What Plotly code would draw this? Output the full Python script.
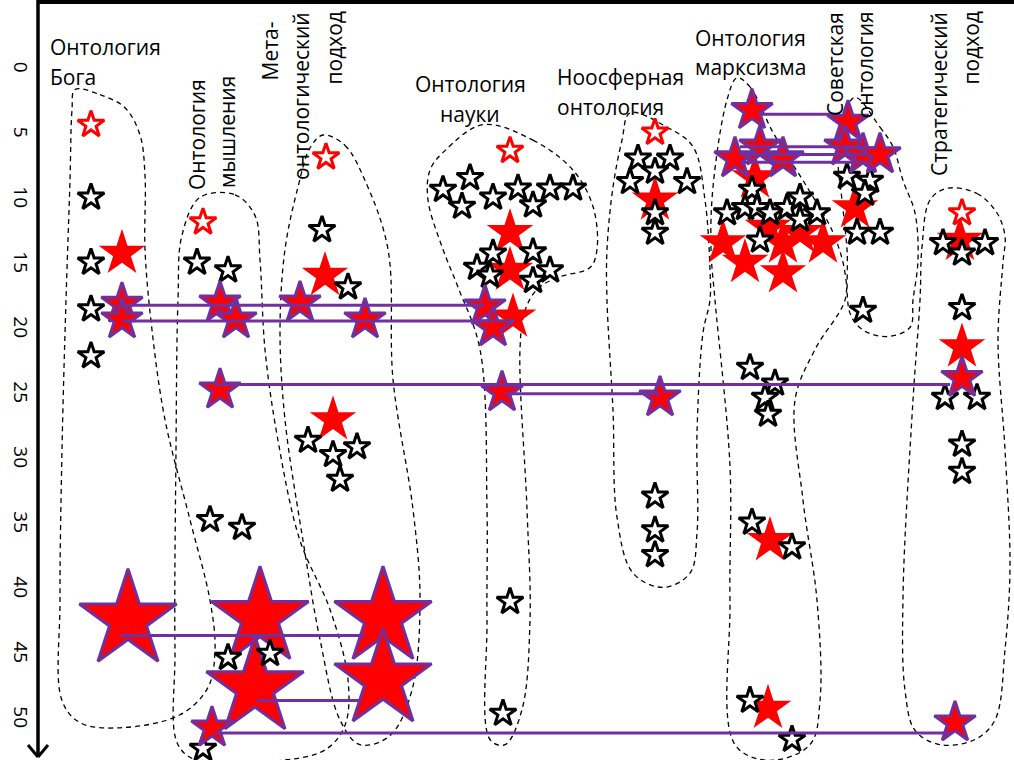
import plotly.graph_objects as go

# ---------------- data ----------------
tick_vals = [0, 5, 10, 15, 20, 25, 30, 35, 40, 45, 50]
tick_text = [str(v) for v in tick_vals]

# black-outlined (white) stars
open_x = [91, 91, 91, 91,
          197, 228, 210, 242, 228, 270, 203,
          322, 348, 308, 333, 357, 340,
          443, 470, 462, 493, 518, 533, 550, 573, 493, 533, 477, 490, 550, 533, 510, 503,
          638, 670, 655, 630, 687, 655, 655, 655, 655, 655,
          752, 727, 745, 757, 770, 787, 800, 817, 800, 760, 750, 775, 765, 768, 752, 792, 750, 792,
          847, 870, 865, 857, 880, 863,
          943, 962, 985, 962, 945, 977, 962, 962]
open_y = [9.8, 14.8, 18.4, 22.0,
          14.8, 15.4, 34.6, 35.2, 45.2, 44.9, 52.2,
          12.3, 16.7, 28.5, 29.6, 29.0, 31.5,
          9.2, 8.3, 10.5, 9.8, 9.1, 10.4, 9.1, 9.1, 14.1, 14.0, 15.2, 15.8, 15.4, 16.2, 40.9, 49.5,
          6.8, 6.8, 7.8, 8.6, 8.6, 11.0, 12.5, 32.8, 35.4, 37.3,
          9.2, 11.0, 10.6, 10.6, 11.0, 10.6, 9.8, 11.0, 11.5, 13.1, 22.9, 24.1, 25.2, 26.5, 34.8, 36.7, 48.5, 51.5,
          8.2, 8.5, 9.5, 12.5, 12.5, 18.5,
          13.3, 14.1, 13.3, 18.3, 25.2, 25.2, 28.8, 30.9]

# red-outlined (white) stars
open_red_x = [91, 203, 326, 510, 655, 962]
open_red_y = [4.2, 11.7, 6.7, 6.2, 4.8, 11.0]

# filled red stars
red_x = [122, 325, 333, 510, 510, 513, 655,
         755, 723, 745, 768, 783, 783, 823, 800, 770, 768,
         855, 960, 962]
red_y = [14.1, 15.8, 26.9, 12.5, 15.4, 19.0, 10.0,
         8.3, 13.3, 14.8, 12.1, 15.6, 13.3, 13.3, 12.5, 36.2, 49.1,
         10.6, 13.1, 21.3]

# red stars with purple outline
purple_x = [122, 122, 220, 236, 220, 212, 300, 365, 485, 493, 502, 660,
            752, 760, 735, 783, 848, 845, 863, 880, 962, 955]
purple_y = [18.0, 19.2, 17.9, 19.2, 24.6, 50.6, 17.9, 19.2, 18.2, 19.8, 24.8, 25.2,
            3.1, 5.9, 6.8, 6.8, 4.0, 5.9, 6.5, 6.5, 23.7, 50.2]

# large red stars with purple outline
big_x = [128, 260, 255, 383, 383]
big_y = [42.3, 42.1, 47.5, 42.1, 46.9]

# connecting links
link_x0 = [120, 122, 215, 505, 120, 257, 215, 760, 740, 740, 740]
link_x1 = [484, 495, 950, 660, 365, 360, 950, 840, 867, 867, 867]
link_y = [18.1, 19.3, 24.2, 24.9, 43.5, 48.5, 51.0, 3.4, 5.9, 6.5, 7.1]

# dashed group outlines (x, y)
outlines = {
    "Бога": [(75, 1.5), (100, 1.9), (125, 2.9), (140, 5.0), (145, 8.1), (145, 13.8), (152, 20.0),
             (165, 26.9), (190, 34.6), (210, 40.8), (215, 44.6), (208, 47.5), (180, 49.6),
             (120, 50.6), (80, 50.2), (62, 48.5), (60, 40.8), (62, 29.2), (66, 17.7), (70, 8.5), (72, 3.1)],
    "мышления": [(200, 9.8), (235, 9.6), (255, 11.2), (260, 14.6), (265, 21.5), (278, 28.5), (300, 36.2),
                 (330, 41.5), (348, 46.9), (345, 50.4), (325, 52.3), (270, 53.2), (200, 53.2),
                 (178, 51.9), (175, 44.6), (176, 29.2), (178, 17.7), (182, 12.7)],
    "мета": [(323, 5.0), (345, 5.8), (365, 8.5), (388, 13.8), (393, 23.8), (413, 33.8), (420, 40.8),
             (412, 47.7), (390, 51.2), (360, 51.9), (340, 50.0), (320, 43.8), (303, 36.2), (285, 26.9),
             (280, 20.0), (285, 13.8), (298, 9.0), (310, 6.0)],
    "науки": [(483, 4.2), (533, 5.4), (573, 7.7), (593, 10.5), (597, 13.8), (590, 15.2), (560, 15.9),
              (538, 16.8), (525, 18.5), (520, 21.5), (527, 33.8), (530, 42.3), (522, 49.2), (505, 51.9),
              (490, 51.5), (487, 42.3), (487, 33.8), (480, 21.5), (458, 16.7), (443, 13.8), (428, 10.0),
              (430, 7.7), (445, 6.2)],
    "ноосфера": [(630, 3.3), (667, 4.4), (693, 5.9), (705, 10.0), (710, 15.4), (710, 17.7), (703, 20.2),
                 (697, 27.9), (697, 35.6), (690, 38.7), (663, 39.8), (633, 38.7), (617, 34.4), (613, 26.2),
                 (607, 17.7), (607, 13.8), (613, 9.0), (622, 5.4)],
    "марксизм": [(737, 0.6), (750, 1.3), (773, 4.8), (807, 9.0), (833, 12.5), (845, 15.6), (845, 17.7),
                 (815, 21.5), (795, 25.4), (803, 33.1), (817, 40.8), (820, 48.5), (810, 51.9), (770, 53.1),
                 (735, 51.9), (730, 40.8), (730, 30.5), (715, 17.7), (711, 13.8), (713, 9.0), (727, 2.3)],
    "советская": [(855, 2.1), (880, 4.4), (893, 5.9), (903, 8.5), (915, 11.0), (918, 14.6), (913, 17.7),
                  (910, 19.8), (887, 20.5), (863, 20.0), (850, 18.7), (847, 13.8), (842, 10.0), (838, 6.9),
                  (843, 3.8)],
    "стратегия": [(947, 9.1), (977, 9.5), (997, 11.0), (1005, 12.8), (1003, 14.8), (998, 20.8), (1005, 29.2),
                  (1010, 38.2), (1005, 44.6), (995, 50.0), (975, 51.5), (940, 51.9), (915, 50.8), (905, 47.7),
                  (903, 40.5), (913, 25.4), (920, 17.7), (922, 13.6), (930, 10.0)],
}

PURPLE = "#7030A0"
RED = "#FF0000"
FONT = "Open Sans"

fig = go.Figure()

# outlines
for pts in outlines.values():
    xs = [p[0] for p in pts] + [pts[0][0]]
    ys = [p[1] for p in pts] + [pts[0][1]]
    fig.add_trace(go.Scatter(x=xs, y=ys, mode="lines",
                             line=dict(color="black", width=1.3, dash="5px,4px", shape="spline", smoothing=1.0),
                             hoverinfo="skip", showlegend=False))

fig.add_trace(go.Scatter(x=big_x, y=big_y, mode="markers",
                         marker=dict(symbol="star", size=73, color=RED, line=dict(color=PURPLE, width=3)),
                         showlegend=False))
fig.add_trace(go.Scatter(x=red_x, y=red_y, mode="markers",
                         marker=dict(symbol="star", size=35, color=RED, line=dict(color=RED, width=0)),
                         showlegend=False))
fig.add_trace(go.Scatter(x=open_x, y=open_y, mode="markers",
                         marker=dict(symbol="star", size=20, color="white", line=dict(color="black", width=3)),
                         showlegend=False))
fig.add_trace(go.Scatter(x=open_red_x, y=open_red_y, mode="markers",
                         marker=dict(symbol="star", size=20, color="white", line=dict(color=RED, width=3)),
                         showlegend=False))
fig.add_trace(go.Scatter(x=purple_x, y=purple_y, mode="markers",
                         marker=dict(symbol="star", size=31, color=RED, line=dict(color=PURPLE, width=3)),
                         showlegend=False))

# links
for x0, x1, y in zip(link_x0, link_x1, link_y):
    fig.add_trace(go.Scatter(x=[x0, x1], y=[y, y], mode="lines", line=dict(color=PURPLE, width=3),
                             hoverinfo="skip", showlegend=False))

H = 760.0
PW = 1014.0 - 38.0


def py(p):
    return 1 - p / H


def px(p):
    return (p - 38.0) / PW


ann = []


def label(text, x, ypix, xanchor="left", yanchor="middle", angle=0):
    ann.append(dict(text=text, x=x, y=py(ypix), xref="x", yref="paper", showarrow=False,
                    xanchor=xanchor, yanchor=yanchor, textangle=angle,
                    font=dict(family=FONT, size=21, color="black")))


label("Онтология", 48, 47)
label("Бога", 48, 77)
label("Онтология", 197, 135, xanchor="center", angle=-90)
label("мышления", 227, 132, xanchor="center", angle=-90)
label("Мета-", 270, 20, xanchor="center", yanchor="top", angle=-90)
label("онтологический", 301, 10, xanchor="center", yanchor="top", angle=-90)
label("подход", 333, 10, xanchor="center", yanchor="top", angle=-90)
label("Онтология", 470, 84, xanchor="center")
label("науки", 470, 114, xanchor="center")
label("Ноосферная", 555, 77)
label("онтология", 555, 107)
label("Онтология", 693, 38)
label("марксизма", 693, 67)
label("Советская", 835, 10, xanchor="center", yanchor="top", angle=-90)
label("онтология", 864, 10, xanchor="center", yanchor="top", angle=-90)
label("Стратегический", 939, 10, xanchor="center", yanchor="top", angle=-90)
label("подход", 970, 10, xanchor="center", yanchor="top", angle=-90)

shapes = [
    dict(type="line", xref="paper", yref="paper", x0=px(38), x1=px(38), y0=1, y1=py(757),
         line=dict(color="black", width=3.5)),
    dict(type="line", xref="paper", yref="paper", x0=px(28), x1=px(38), y0=py(745), y1=py(757),
         line=dict(color="black", width=3)),
    dict(type="line", xref="paper", yref="paper", x0=px(48), x1=px(38), y0=py(745), y1=py(757),
         line=dict(color="black", width=3)),
    dict(type="line", xref="paper", yref="paper", x0=px(37), x1=1, y0=py(2), y1=py(2),
         line=dict(color="black", width=4)),
]

fig.update_layout(
    width=1014, height=760,
    margin=dict(l=38, r=0, t=0, b=0, autoexpand=False),
    paper_bgcolor="white", plot_bgcolor="white",
    showlegend=False,
    annotations=ann, shapes=shapes,
    xaxis=dict(range=[38, 1014], visible=False, fixedrange=True, automargin=False),
    yaxis=dict(range=[(H - 70) / 13.0, -70 / 13.0], tickvals=tick_vals, ticktext=tick_text,
               tickangle=90, showgrid=False, zeroline=False, showline=False, ticks="", automargin=False,
               tickfont=dict(family=FONT, size=19, color="black"), ticklabelstandoff=4),
)

fig.write_html("out.html", config={"displayModeBar": False},
               post_script="document.body.style.margin='0';document.body.style.overflow='hidden';")
